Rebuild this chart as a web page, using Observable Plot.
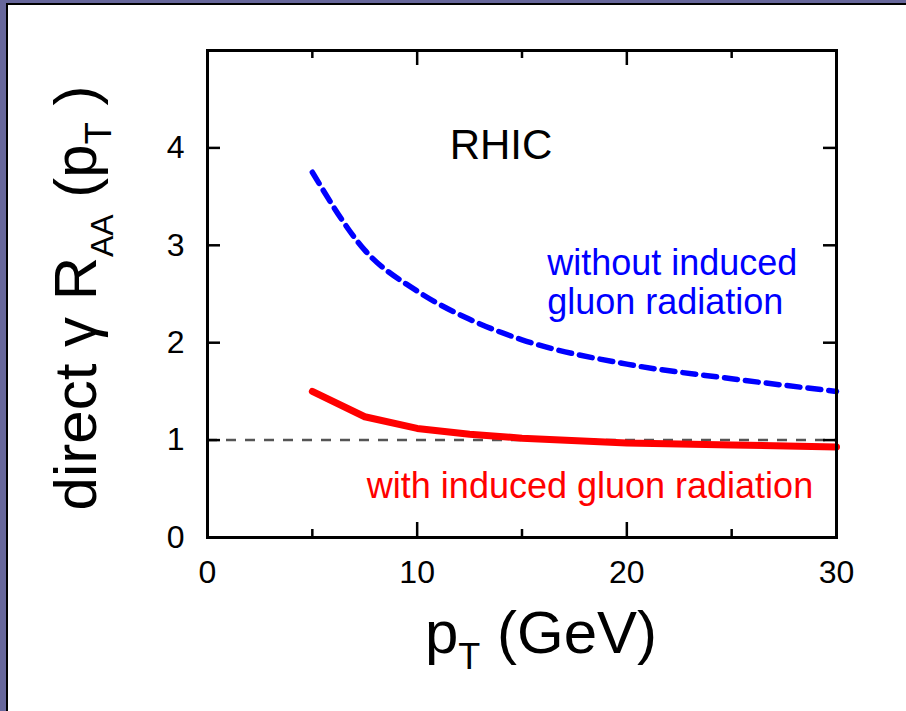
<!DOCTYPE html>
<html>
<head>
<meta charset="utf-8">
<script src="https://cdn.jsdelivr.net/npm/d3@7"></script>
<script src="https://cdn.jsdelivr.net/npm/@observablehq/plot@0.6"></script>
<style>
html, body { margin: 0; padding: 0; background: #fff; }
#wrap { position: relative; width: 906px; height: 711px; overflow: hidden; background: #fff; }
#wrap svg { position: absolute; left: 0; top: 0; }
.b { position: absolute; }
</style>
</head>
<body>
<div id="wrap">
  <div id="chart"></div>
  <div class="b" style="left:0;top:0;width:906px;height:3px;background:#67679b"></div>
  <div class="b" style="left:0;top:3px;width:906px;height:1.5px;background:#000"></div>
  <div class="b" style="left:0;top:0;width:6px;height:711px;background:#67679b"></div>
  <div class="b" style="left:6px;top:3px;width:2px;height:708px;background:#000"></div>
</div>
<script>
// ---- data ----
const pT       = [5, 7.5, 10, 12.5, 15, 20, 25, 30];
const rWithout = [3.75, 2.95, 2.53, 2.24, 2.03, 1.78, 1.63, 1.50];
const rWith    = [1.50, 1.24, 1.12, 1.06, 1.02, 0.97, 0.95, 0.93];
const xTickLabels = [0, 10, 20, 30];
const xMajorTicks = [10, 20];
const xMinorTicks = [5, 15, 25];
const yTickLabels = [0, 1, 2, 3, 4];
const refLevel = [1];

const W = 906, H = 711;
const mL = 207, mR = 70, mT = 50, mB = 174;
const frameW = W - mL - mR, frameH = H - mT - mB;

const without = pT.map((x, i) => ({x, y: rWithout[i]}));
const withR   = pT.map((x, i) => ({x, y: rWith[i]}));

const font = "'Liberation Sans', Arial, Helvetica, sans-serif";

const plot = Plot.plot({
  width: W, height: H,
  marginLeft: mL, marginRight: mR, marginTop: mT, marginBottom: mB,
  x: {domain: [0, 30]},
  y: {domain: [0, 5]},
  style: {fontFamily: font, background: "transparent", color: "#000", overflow: "visible"},
  marks: [
    Plot.ruleY(refLevel, {y: d => d, stroke: "#555", strokeWidth: 2.5, strokeDasharray: "10,9"}),
    Plot.line(without, {x: "x", y: "y", curve: "monotone-x", stroke: "#0000ff", strokeWidth: 5.5, strokeDasharray: "13,8", strokeLinecap: "round"}),
    Plot.line(withR, {x: "x", y: "y", stroke: "#ff0000", strokeWidth: 7, strokeLinecap: "round", strokeLinejoin: "round"}),
    // inward ticks
    Plot.tickX(xMajorTicks, {x: d => d, insetTop: frameH - 15, stroke: "#000", strokeWidth: 2.5}),
    Plot.tickX(xMinorTicks, {x: d => d, insetTop: frameH - 8, stroke: "#000", strokeWidth: 2.5}),
    Plot.tickX(xMajorTicks, {x: d => d, insetBottom: frameH - 15, stroke: "#000", strokeWidth: 2.5}),
    Plot.tickX(xMinorTicks, {x: d => d, insetBottom: frameH - 8, stroke: "#000", strokeWidth: 2.5}),
    Plot.tickY(yTickLabels, {y: d => d, insetRight: frameW - 13, stroke: "#000", strokeWidth: 2.5}),
    Plot.tickY(yTickLabels, {y: d => d, insetLeft: frameW - 13, stroke: "#000", strokeWidth: 2.5}),
    Plot.frame({stroke: "#000", strokeWidth: 3}),
    Plot.axisX({ticks: xTickLabels, tickSize: 0, tickPadding: 23, fontSize: 32, label: null, tickFormat: d => String(d)}),
    Plot.axisY({ticks: yTickLabels, tickSize: 0, tickPadding: 23, fontSize: 32, label: null, tickFormat: d => String(d)}),
    Plot.text(["RHIC"], {x: 14, y: 4.02, text: d => d, fontSize: 42, fill: "#000", textAnchor: "middle"}),
    Plot.text(["without induced\ngluon radiation"], {x: 16.2, y: 2.62, text: d => d, fontSize: 36, fill: "#0000ff", textAnchor: "start", lineHeight: 1.07}),
    Plot.text(["with induced gluon radiation"], {x: 7.6, y: 0.52, text: d => d, fontSize: 36, fill: "#ff0000", textAnchor: "start"})
  ]
});

document.getElementById("chart").appendChild(plot);

const svg = d3.select(plot);
// x-axis title: p_T (GeV)
const xt = svg.append("text")
  .attr("x", 541).attr("y", 653)
  .attr("text-anchor", "middle")
  .attr("font-family", font).attr("font-size", 60).attr("fill", "#000");
xt.append("tspan").text("p");
xt.append("tspan").attr("font-size", 36).attr("dy", 16).text("T");
xt.append("tspan").attr("dy", -16).text(" (GeV)");

// y-axis title: direct γ R_AA (p_T )
const yt = svg.append("text")
  .attr("transform", "translate(96,298) rotate(-90)")
  .attr("text-anchor", "middle")
  .attr("font-family", font).attr("font-size", 60).attr("fill", "#000");
yt.append("tspan").text("direct γ R");
yt.append("tspan").attr("font-size", 32).attr("dy", 17).text("AA");
yt.append("tspan").attr("dy", -17).text(" (p");
yt.append("tspan").attr("font-size", 36).attr("dy", 15).text("T");
yt.append("tspan").attr("dy", -15).text(" )");
</script>
</body>
</html>
